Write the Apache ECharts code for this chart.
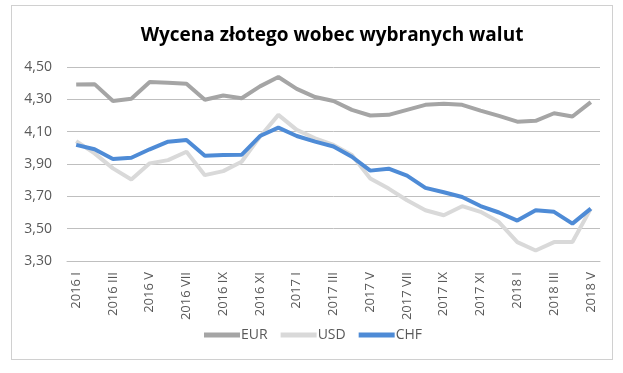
<!DOCTYPE html>
<html><head><meta charset="utf-8">
<script src="https://cdn.jsdelivr.net/npm/echarts@6/dist/echarts.min.js"></script>
<style>html,body{margin:0;padding:0;background:#fff}#c{width:623px;height:373px}
#frame{position:absolute;left:11px;top:5px;width:600px;height:353px;border:1px solid #D0D0D0;pointer-events:none}</style>
</head><body><div id="c"></div><div id="frame"></div>
<script>
const categories = ["2016 I","2016 II","2016 III","2016 IV","2016 V","2016 VI","2016 VII","2016 VIII","2016 IX","2016 X","2016 XI","2016 XII",
"2017 I","2017 II","2017 III","2017 IV","2017 V","2017 VI","2017 VII","2017 VIII","2017 IX","2017 X","2017 XI","2017 XII",
"2018 I","2018 II","2018 III","2018 IV","2018 V"];
const eur = [4.392,4.394,4.290,4.303,4.407,4.402,4.397,4.297,4.324,4.307,4.380,4.438,4.365,4.314,4.290,4.235,4.200,4.204,4.235,4.266,4.272,4.266,4.230,4.198,4.162,4.167,4.214,4.194,4.283];
const usd = [4.042,3.966,3.873,3.804,3.904,3.924,3.976,3.831,3.856,3.914,4.069,4.204,4.111,4.059,4.018,3.955,3.810,3.748,3.676,3.614,3.583,3.639,3.604,3.541,3.417,3.365,3.417,3.417,3.624];
const chf = [4.018,3.991,3.931,3.939,3.991,4.038,4.049,3.951,3.955,3.957,4.073,4.125,4.073,4.038,4.008,3.945,3.859,3.871,3.828,3.752,3.725,3.696,3.640,3.600,3.550,3.614,3.604,3.531,3.624];
const chart = echarts.init(document.getElementById('c'));
const mk = (name, data, color) => ({name, type:'line', data, symbol:'none', smooth:false,
  lineStyle:{color, width:4}, itemStyle:{color}, emphasis:{disabled:true}});
chart.setOption({
  animation:false,
  title:{text:'Wycena złotego wobec wybranych walut', left:327, top:21, textAlign:'center',
    textStyle:{fontFamily:'Open Sans', fontSize:19, fontWeight:'bold', color:'#000'}},
  grid:{left:67, right:23, top:67, bottom:112},
  legend:{bottom:26, left:199, itemWidth:36, itemHeight:5, itemGap:13, icon:'rect',
    textStyle:{fontFamily:'Open Sans', fontSize:14, color:'#595959', padding:[0,0,0,-4]},
    data:['EUR','USD','CHF']},
  xAxis:{type:'category', data:categories, boundaryGap:true,
    axisLine:{show:true, lineStyle:{color:'#BFBFBF'}}, axisTick:{show:false},
    axisLabel:{rotate:90, interval:1, fontFamily:'Open Sans', fontSize:13, color:'#595959', margin:11}},
  yAxis:{type:'value', min:3.3, max:4.5, interval:0.2,
    axisLine:{show:false}, axisTick:{show:false},
    splitLine:{lineStyle:{color:'#BFBFBF'}},
    axisLabel:{fontFamily:'Open Sans', fontSize:14, color:'#595959', margin:15,
      formatter:v=>v.toFixed(2).replace('.',',')}},
  series:[mk('EUR',eur,'#A5A5A5'), mk('USD',usd,'#D9D9D9'), mk('CHF',chf,'#4E8BD6')]
});
</script></body></html>
